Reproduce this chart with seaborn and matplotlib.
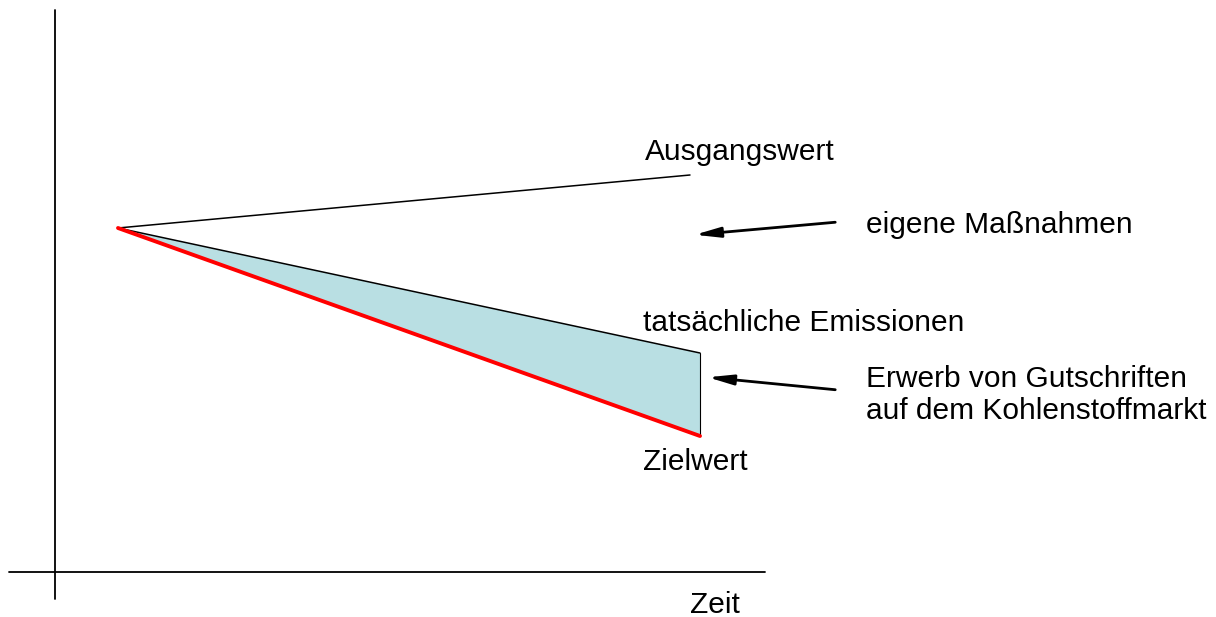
import matplotlib
matplotlib.use("Agg")
import matplotlib.pyplot as plt
import seaborn as sns
import pandas as pd

sns.set_style("white")
plt.rcParams["font.family"] = ["Liberation Sans", "DejaVu Sans"]
plt.rcParams["text.color"] = "black"

# Zeitpunkte (Start / Ende) und Werte in Bildkoordinaten (y nach unten)
zeit = [118, 700]
ausgangswert = [228, 175]
ausgangs_zeit = [118, 690]
tatsaechlich = [228, 353]
zielwert = [228, 436]

df = pd.DataFrame({"zeit": zeit, "tats": tatsaechlich, "ziel": zielwert})

fig = plt.figure(figsize=(12.16, 6.17), dpi=100)
ax = fig.add_axes([0, 0, 1, 1])
ax.set_xlim(0, 1216)
ax.set_ylim(617, 0)
ax.axis("off")

# Achsen
ax.plot([9, 765], [572, 572], color="black", lw=1.3)
ax.plot([55, 55], [10, 599], color="black", lw=1.3)

# Fläche zwischen tatsächlichen Emissionen und Zielwert
ax.fill_between(df["zeit"], df["tats"], df["ziel"], color="#b9dfe3", lw=0)
ax.plot([zeit[1], zeit[1]], [tatsaechlich[1], zielwert[1]], color="black", lw=0.8)

sns.lineplot(x=ausgangs_zeit, y=ausgangswert, ax=ax, color="black", lw=1.1)
sns.lineplot(data=df, x="zeit", y="tats", ax=ax, color="black", lw=1.1)
sns.lineplot(data=df, x="zeit", y="ziel", ax=ax, color="#ff0000", lw=2.8)

fs = 21.5
ax.text(645, 152, "Ausgangswert", fontsize=fs, va="center", ha="left")
ax.text(866, 225, "eigene Maßnahmen", fontsize=fs, va="center", ha="left")
ax.text(643, 323, "tatsächliche Emissionen", fontsize=fs, va="center", ha="left")
ax.text(866, 395, "Erwerb von Gutschriften\nauf dem Kohlenstoffmarkt", fontsize=fs,
        va="center", ha="left", linespacing=1.2)
ax.text(643, 462, "Zielwert", fontsize=fs, va="center", ha="left")
ax.text(690, 605, "Zeit", fontsize=fs, va="center", ha="left")

arrow = dict(arrowstyle="-|>,head_length=1.5,head_width=0.3", color="black", lw=2)
ax.annotate("", xy=(692, 235), xytext=(838, 222), arrowprops=arrow)
ax.annotate("", xy=(705, 377), xytext=(838, 390), arrowprops=arrow)

fig.savefig("out.png", dpi=100)
